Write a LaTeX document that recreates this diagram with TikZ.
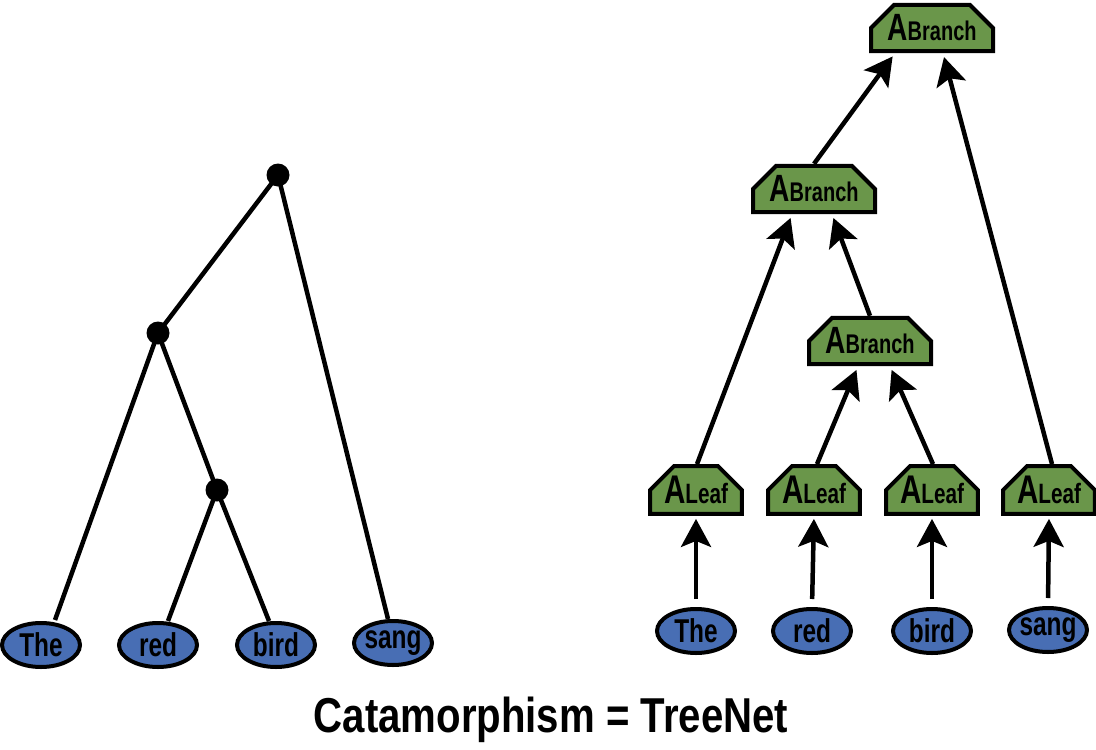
\documentclass[tikz,border=0pt]{standalone}
\usepackage{fontspec}
\setmainfont{Liberation Sans}[FakeStretch=0.74]
\newfontfamily\titlefont{Liberation Sans}[FakeStretch=0.82]
\usetikzlibrary{shapes.geometric,shapes.misc,arrows.meta}
\definecolor{leafgreen}{RGB}{106,150,74}
\definecolor{wordblue}{RGB}{72,110,180}
\begin{document}
\begin{tikzpicture}[x=1pt,y=-1pt,
  word/.style={ellipse,draw=black,line width=4pt,fill=wordblue,minimum width=78pt,minimum height=44pt,inner sep=-8pt,font=\bfseries\fontsize{33}{33}\selectfont},
  dot/.style={circle,fill=black,minimum size=23pt,inner sep=0pt},
  tline/.style={line width=4.5pt},
  abox/.style={chamfered rectangle,chamfered rectangle corners={north west,north east},chamfered rectangle xsep=20pt,chamfered rectangle ysep=10pt,draw=black,line width=4pt,fill=leafgreen,inner sep=0pt,font=\bfseries},
  leafbox/.style={abox,minimum width=81pt,minimum height=45pt},
  branchbox/.style={abox,minimum width=122pt,minimum height=46pt},
  arr/.style={line width=4.5pt,-{Stealth[length=28pt,width=30pt,inset=6pt]}},
]
\useasboundingbox (0,0) rectangle (1096,750);
\newcommand{\AL}{{\fontsize{40}{40}\selectfont A}{\fontsize{28}{28}\selectfont Leaf}}
\newcommand{\AB}{{\fontsize{38}{38}\selectfont A}{\fontsize{27}{27}\selectfont Branch}}
% left tree
\node[dot] (t) at (278,175) {};
\node[dot] (m) at (158,333) {};
\node[dot] (l) at (217,490) {};
\node[word] (w1) at (41,645) {The};
\node[word] (w2) at (158,645) {red};
\node[word] (w3) at (276,645) {bird};
\node[word] (w4) at (393,643) {sang};
\draw[tline] ([xshift=14pt,yshift=1pt]w1.north) -- (m.center);
\draw[tline] ([xshift=10pt]w2.north) -- (l.center);
\draw[tline] ([xshift=-7pt]w3.north) -- (l.center);
\draw[tline] ([xshift=-5pt]w4.north) -- (t.center);
\draw[tline] (l.center) -- (m.center);
\draw[tline] (m.center) -- (t.center);
% right tree
\node[word] (r1) at (696,631) {The};
\node[word] (r2) at (812,631) {red};
\node[word] (r3) at (932,631) {bird};
\node[word] (r4) at (1048,630) {sang};
\node[leafbox] (f1) at (696,490) {\AL};
\node[leafbox] (f2) at (814,490) {\AL};
\node[leafbox] (f3) at (932,490) {\AL};
\node[leafbox] (f4) at (1049,490) {\AL};
\node[branchbox] (b3) at (870,341) {\AB};
\node[branchbox] (b2) at (814,189) {\AB};
\node[branchbox] (b1) at (932,28) {\AB};
\foreach \i in {1,2,3,4}{
  \draw[arr,shorten <=8pt,shorten >=3pt] (r\i.north) -- (f\i.south);
}
\draw[arr,shorten >=4pt] ([xshift=1pt]f1.north) -- ([xshift=-22pt]b2.south);
\draw[arr,shorten >=4pt] (b3.north) -- ([xshift=18pt]b2.south);
\draw[arr,shorten >=4pt] ([xshift=3pt]f2.north) -- ([xshift=-12pt]b3.south);
\draw[arr,shorten >=4pt] ([xshift=1pt]f3.north) -- ([xshift=20pt]b3.south);
\draw[arr,shorten >=4pt] (b2.north) -- ([xshift=-37pt]b1.south);
\draw[arr,shorten >=4pt] ([xshift=3pt]f4.north) -- ([xshift=11pt]b1.south);
% title
\node[font=\titlefont\bfseries\fontsize{49}{49}\selectfont] (title) at (551,720) {Catamorphism = TreeNet};
\end{tikzpicture}
\end{document}
